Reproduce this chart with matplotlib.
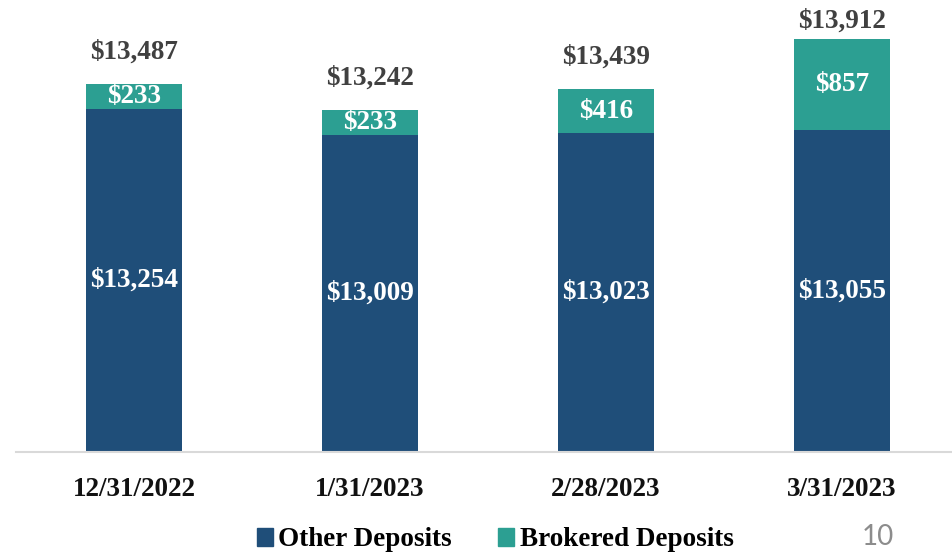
import matplotlib
matplotlib.use("Agg")
import matplotlib.pyplot as plt
from matplotlib.patches import Patch

categories = ["12/31/2022", "1/31/2023", "2/28/2023", "3/31/2023"]
other_deposits = [13254, 13009, 13023, 13055]
brokered_deposits = [233, 233, 416, 857]
totals = [13487, 13242, 13439, 13912]
series_names = ["Other Deposits", "Brokered Deposits"]
total_label_offsets_pt = [23, 23, 23, 13]

c_other = "#1F4E79"
c_brok = "#2C9F92"
serif = "Liberation Serif"

fig = plt.figure(figsize=(9.53, 5.53), dpi=100)
W, H = 953, 553
ax = fig.add_axes([16 / W, (H - 452) / H, (W - 16) / W, (452 - 30) / H])
x = list(range(len(categories)))
ax.bar(x, other_deposits, width=0.41, color=c_other, bottom=0)
ax.bar(x, brokered_deposits, width=0.41, color=c_brok, bottom=other_deposits)
ax.set_ylim(10000, 14000)
ax.set_xlim(-0.5, -0.5 + 937 / 236)

for i in x:
    ax.text(i, (10000 + other_deposits[i]) / 2, f"${other_deposits[i]:,}",
            ha="center", va="center", color="white", fontsize=19.5,
            fontweight="bold", family=serif)
    ax.text(i, other_deposits[i] + brokered_deposits[i] / 2, f"${brokered_deposits[i]:,}",
            ha="center", va="center", color="white", fontsize=19.5,
            fontweight="bold", family=serif)
    ax.annotate(f"${totals[i]:,}", (i, totals[i]), xytext=(0, total_label_offsets_pt[i]),
                textcoords="offset points", ha="center", va="center",
                color="#404040", fontsize=19.5, fontweight="bold", family=serif,
                annotation_clip=False)

ax.set_xticks(x)
ax.set_xticklabels(categories, fontsize=19.5, fontweight="bold", family=serif, color="#111111")
ax.tick_params(axis="x", length=0, pad=18)
ax.set_yticks([])
for s in ["top", "right", "left"]:
    ax.spines[s].set_visible(False)
ax.spines["bottom"].set_color("#D9D9D9")
ax.spines["bottom"].set_linewidth(1.5)

handles = [Patch(color=c_other), Patch(color=c_brok)]
fig.legend(handles, series_names, loc="center", bbox_to_anchor=(495 / W, 1 - 540 / H),
           ncol=2, frameon=False, handlelength=0.6, handleheight=0.6,
           handletextpad=0.2, columnspacing=1.7,
           prop={"family": serif, "weight": "bold", "size": 19.5})

fig.text(878 / W, 1 - 537 / H, "10", ha="center", va="center", fontsize=20,
         color="#8C8C8C", family="Lato")

fig.savefig("out.png", dpi=100)
